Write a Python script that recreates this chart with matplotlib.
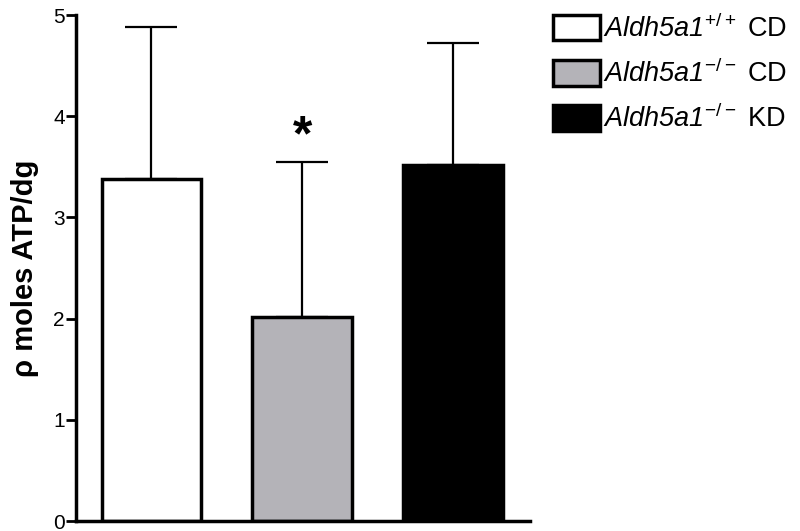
import matplotlib
matplotlib.use("Agg")
import matplotlib.pyplot as plt
from matplotlib.patches import Patch

plt.rcParams['font.family'] = ['Liberation Sans', 'DejaVu Sans']
plt.rcParams['mathtext.fontset'] = 'custom'
plt.rcParams['mathtext.rm'] = 'Liberation Sans'
plt.rcParams['mathtext.sf'] = 'Liberation Sans:italic'

# data
groups = ['+/+ CD', '-/- CD', '-/- KD']
means = [3.38, 2.02, 3.52]
upper_err = [1.50, 1.53, 1.20]
colors = ['white', '#b4b3b8', 'black']
labels = [r'$\mathsf{Aldh5a1}^{\mathrm{+/+}}$ CD',
          r'$\mathsf{Aldh5a1}^{\mathrm{-/-}}$ CD',
          r'$\mathsf{Aldh5a1}^{\mathrm{-/-}}$ KD']
yticks = [0, 1, 2, 3, 4, 5]

fig = plt.figure(figsize=(8, 5.31), dpi=100)
ax = fig.add_axes([0.095, 0.0188, 0.5675, 0.9529])

x = list(range(len(means)))
ax.bar(x, means, width=0.66, color=colors, edgecolor='black', linewidth=2.5, zorder=2)
ax.errorbar(x, means, yerr=[[0, 0, 0], upper_err], fmt='none', ecolor='black',
            elinewidth=1.6, capsize=18.5, capthick=1.6, zorder=1)
ax.text(1, means[1] + upper_err[1] + 0.01, '*', ha='center', va='bottom',
        fontsize=36, fontweight='bold')

ax.set_xlim(-0.5, 2.51)
ax.set_ylim(0, 5)
ax.set_yticks(yticks)
ax.set_xticks([])
for s in ['top', 'right']:
    ax.spines[s].set_visible(False)
for s in ['left', 'bottom']:
    ax.spines[s].set_linewidth(2.5)
ax.tick_params(axis='y', length=7, width=2, labelsize=15, pad=1)
ax.set_ylabel('ρ moles ATP/dg', fontsize=21, fontweight='bold', labelpad=10)

handles = [Patch(facecolor=c, edgecolor='black', linewidth=2.5) for c in colors]
fig.legend(handles, labels, loc='upper left', bbox_to_anchor=(0.691, 0.973),
           frameon=False, fontsize=19.5, handlelength=1.75, handleheight=1.07,
           labelspacing=0.62, handletextpad=0.12, borderpad=0, borderaxespad=0)

fig.savefig('out.png', dpi=100)
